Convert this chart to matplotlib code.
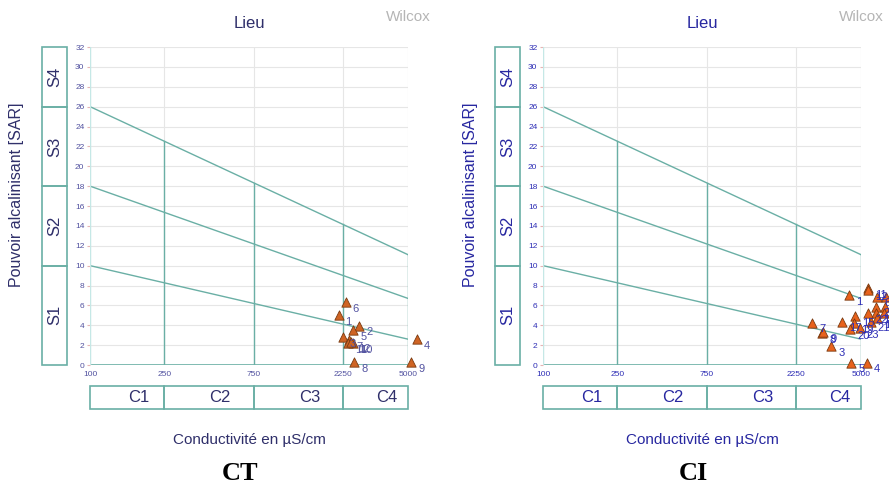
import numpy as np
import matplotlib
matplotlib.use('Agg')
import matplotlib.pyplot as plt
from matplotlib.patches import Rectangle
from matplotlib.ticker import NullLocator

W, H = 889, 486

# classes de Wilcox
ce_ticks = [100, 250, 750, 2250, 5000]
s_bornes = [0, 10, 18, 26, 32]
s_noms = ['S1', 'S2', 'S3', 'S4']
c_noms = ['C1', 'C2', 'C3', 'C4']
lim_100 = [10, 18, 26]
lim_5000 = [2.6, 6.7, 11.1]

# CT
ct_ce = [2130, 2750, 2240, 5575, 2550, 2320, 2430, 2585, 5200, 2540, 2380, 2470]
ct_sar = [5.0, 3.95, 2.8, 2.6, 3.5, 6.3, 2.5, 0.3, 0.3, 2.2, 2.2, 2.3]
ct_ids = [str(i) for i in range(1, 13)]

# CI
ci_ce = [4300, 6030, 3470, 5380, 4430, 6100, 2745, 3107, 3140, 6760, 5430, 5480,
         6700, 6030, 4665, 6120, 3955, 6600, 4600, 4375, 5650, 5480, 4910]
ci_sar = [7.05, 5.87, 1.91, 0.23, 0.23, 6.88, 4.26, 3.19, 3.32, 6.88, 7.72, 7.5,
          5.87, 5.2, 4.93, 4.7, 4.36, 5.27, 4.2, 3.59, 4.36, 5.2, 3.69]
ci_ids = [str(i) for i in range(1, 24)]

TEAL = '#6aafa5'
plt.rcParams['font.family'] = ['Liberation Sans', 'DejaVu Sans']


def px(x, y, w, h):
    return [x / W, 1 - (y + h) / H, w / W, h / H]


fig = plt.figure(figsize=(W / 100, H / 100), dpi=100)


def trace(x0, xs, ce, sar, ids, col_txt, col_tri, col_num, nom):
    ax = fig.add_axes(px(x0, 47, 318, 318))
    ax.set_xscale('log')
    ax.set_xlim(100, 5000)
    ax.set_ylim(0, 32)
    ax.set_xticks(ce_ticks)
    ax.set_xticklabels([str(c) for c in ce_ticks])
    ax.xaxis.set_minor_locator(NullLocator())
    ax.set_yticks(range(0, 33, 2))
    ax.grid(color='#e6e6e6', lw=0.8)
    ax.tick_params(axis='y', length=2, color='#e5b5b5', labelsize=6, labelcolor=col_num, pad=2)
    ax.tick_params(axis='x', length=0, labelsize=6, labelcolor=col_num, pad=4)
    for s in ax.spines.values():
        s.set_visible(False)

    # limites
    lx = [np.log10(100), np.log10(5000)]
    for a, b in zip(lim_100, lim_5000):
        ax.plot([100, 5000], [a, b], color=TEAL, lw=1)
    ax.plot([100, 5000], [0, 0], color=TEAL, lw=1.2)
    ax.plot([100, 100], [0, 32], color='#c5e8e6', lw=1)
    for c in ce_ticks[1:]:
        ytop = np.interp(np.log10(c), lx, [lim_100[-1], lim_5000[-1]])
        ax.plot([c, c], [0, ytop], color=TEAL, lw=1)

    ax.scatter(ce, sar, marker='^', s=45, color=col_tri, edgecolor='#7a3a10',
               linewidth=0.6, zorder=5, clip_on=False)
    for x, y, t in zip(ce, sar, ids):
        ax.annotate(t, (x, y), xytext=(5, -7), textcoords='offset points',
                    fontsize=8, color=col_num, zorder=6, annotation_clip=False)

    # boites S
    axs = fig.add_axes(px(xs, 47, 25, 318))
    axs.set_xlim(0, 1)
    axs.set_ylim(0, 32)
    axs.axis('off')
    for i, n in enumerate(s_noms):
        lo, hi = s_bornes[i], s_bornes[i + 1]
        axs.add_patch(Rectangle((0, lo), 1, hi - lo, fill=False, edgecolor=TEAL, lw=1.2, clip_on=False))
        axs.text(0.5, (lo + hi) / 2, n, rotation=90, ha='center', va='center', fontsize=12, color=col_txt)

    # boites C
    axc = fig.add_axes(px(x0, 386, 318, 23))
    axc.set_xscale('log')
    axc.set_xlim(100, 5000)
    axc.set_ylim(0, 1)
    axc.axis('off')
    for i, n in enumerate(c_noms):
        a, b = ce_ticks[i], ce_ticks[i + 1]
        axc.add_patch(Rectangle((a, 0), b - a, 1, fill=False, edgecolor=TEAL, lw=1.2, clip_on=False))
        axc.annotate(n, (np.sqrt(a * b), 0.5), xytext=(8, 0), textcoords='offset points',
                     ha='center', va='center', fontsize=12, color=col_txt)

    cx = (x0 + 159) / W
    fig.text(cx, 1 - 24 / H, 'Lieu', ha='center', va='center', fontsize=12, color=col_txt)
    fig.text((x0 + 318) / W, 1 - 17 / H, 'Wilcox', ha='center', va='center', fontsize=11, color='#b5b5b5')
    fig.text((xs - 25) / W, 1 - 195 / H, 'Pouvoir alcalinisant [SAR]', rotation=90,
             ha='center', va='center', fontsize=11.5, color=col_txt)
    fig.text(cx, 1 - 440 / H, 'Conductivité en µS/cm', ha='center', va='center', fontsize=11, color=col_txt)
    fig.text((x0 + 150) / W, 1 - 473 / H, nom, ha='center', va='center', fontsize=19,
             fontweight='bold', family='Liberation Serif', color='black')


trace(90, 42, ct_ce, ct_sar, ct_ids, '#2f2f6a', '#cf6424', '#5252a0', 'CT')
trace(543, 495, ci_ce, ci_sar, ci_ids, '#2727a0', '#e8621c', '#2d2db5', 'CI')

fig.savefig('out.png', dpi=100)
